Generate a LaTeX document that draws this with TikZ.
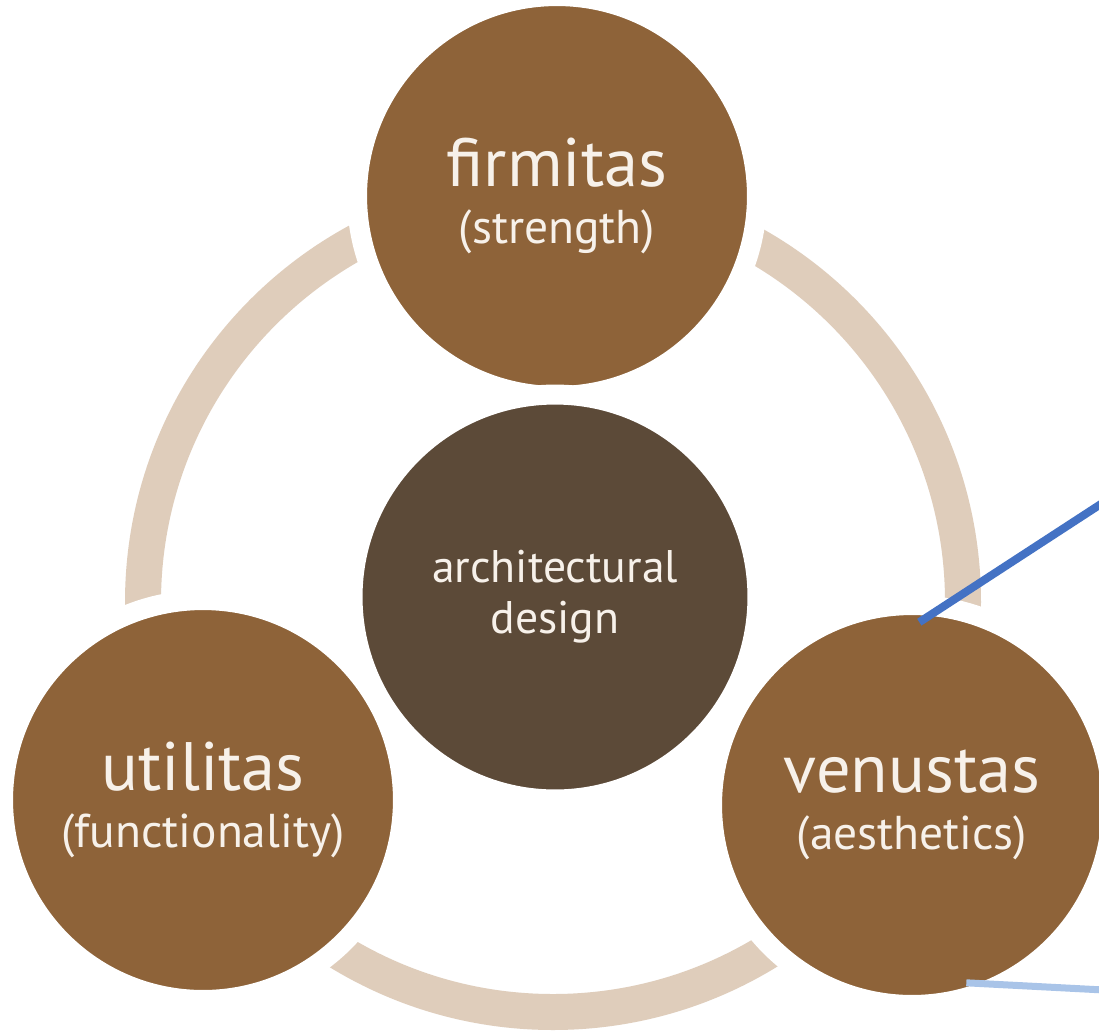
\documentclass[tikz,border=0pt]{standalone}
\usepackage{fontspec}
\setmainfont{PT Sans}
\usetikzlibrary{positioning}
\definecolor{ringtan}{HTML}{DFCDBB}
\definecolor{pillarbrown}{HTML}{8E6339}
\definecolor{coredark}{HTML}{5C4A38}
\definecolor{labelwhite}{HTML}{F7F1EA}
\definecolor{lineblue}{HTML}{4472C4}
\definecolor{paleblue}{HTML}{A9C4E8}
\newcommand{\bigword}[1]{{\fontsize{39}{32}\selectfont #1}}
\begin{document}
\begin{tikzpicture}[x=0.02cm,y=-0.02cm]
      \useasboundingbox[fill=white] (0,0) rectangle (1099,1032);
      \draw[ringtan, line width=0.72cm] (553,602) circle (410);
      \begin{scope}[every node/.style={circle,draw=white,line width=0.4cm,
          minimum size=8cm,align=center,text=labelwhite,inner sep=0pt,
          font=\fontsize{27}{32}\selectfont}]
        \node (firm)[fill=pillarbrown] at (557,196) {\bigword{firmitas}\\(strength)};
        \node (core)[fill=coredark,minimum size=8.1cm,
          font=\fontsize{26}{29}\selectfont] at (555,597) {architectural\\design};
        \node (util)[fill=pillarbrown] at (203,800) {\bigword{utilitas}\\(functionality)};
        \node (venu)[fill=pillarbrown] at (912,805) {\bigword{venustas}\\(aesthetics)};
      \end{scope}
      \coordinate (blueend) at (1104,502);
      \coordinate (paleend) at (1104,990);
      \draw[lineblue, line width=0.16cm] (venu.88) ++(0,27) coordinate (bluestart) -- (blueend);
      \draw[paleblue, line width=0.14cm] (venu.-75) ++(0,-25) coordinate (palestart) -- (paleend);
    \end{tikzpicture}
\end{document}
